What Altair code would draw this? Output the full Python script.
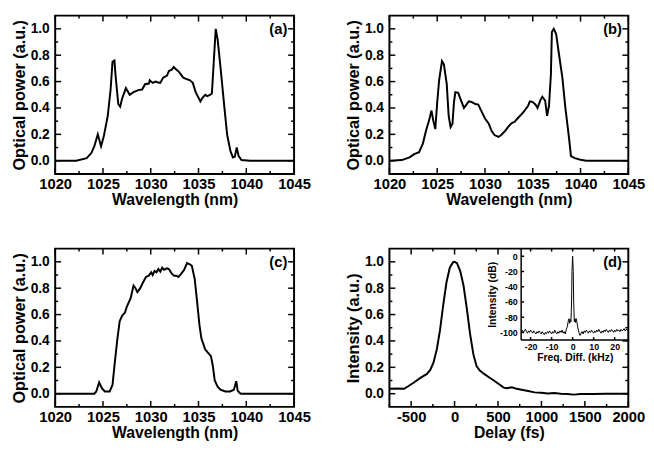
import altair as alt
import pandas as pd

# ---------------- data ----------------
a_wl = [1020, 1022.2, 1023.3, 1023.8, 1024.1, 1024.46, 1024.8, 1025.1, 1025.5, 1025.8, 1026.0, 1026.2, 1026.3, 1026.6,
        1026.8, 1027.0, 1027.4, 1027.8, 1028.2, 1028.7, 1029.1, 1029.4, 1029.8, 1029.9, 1030.2, 1030.5, 1030.7, 1031.0,
        1031.3, 1031.7, 1031.9, 1032.2, 1032.4, 1032.7, 1033.0, 1033.4, 1033.7, 1034.1, 1034.4, 1034.7, 1035.2, 1035.4,
        1035.7, 1035.9, 1036.2, 1036.4, 1036.6, 1036.8, 1037.0, 1037.3, 1037.7, 1038.0, 1038.35, 1038.6, 1038.8, 1039.0,
        1039.2, 1039.5, 1040.4, 1045]
a_pw = [0, 0, 0.02, 0.06, 0.11, 0.20, 0.11, 0.19, 0.34, 0.54, 0.75, 0.76, 0.66, 0.43, 0.41, 0.47, 0.55, 0.50, 0.52,
        0.535, 0.54, 0.58, 0.585, 0.61, 0.59, 0.60, 0.595, 0.59, 0.63, 0.645, 0.68, 0.69, 0.71, 0.69, 0.67, 0.63, 0.62,
        0.61, 0.59, 0.52, 0.45, 0.475, 0.50, 0.49, 0.50, 0.51, 0.755, 1.0, 0.92, 0.71, 0.41, 0.195, 0.07, 0.025, 0.03,
        0.10, 0.035, 0.005, 0, 0]

b_wl = [1020, 1021.3, 1022.1, 1022.6, 1023.1, 1023.5, 1023.8, 1024.2, 1024.4, 1024.6, 1024.8, 1025.0, 1025.2, 1025.5,
        1025.7, 1026.0, 1026.2, 1026.4, 1026.6, 1026.75, 1026.9, 1027.2, 1027.4, 1027.8, 1028.0, 1028.3, 1028.6, 1029.0,
        1029.3, 1029.7, 1030.0, 1030.4, 1030.7, 1031.0, 1031.4, 1031.7, 1032.1, 1032.4, 1032.8, 1033.1, 1033.4, 1033.8,
        1034.1, 1034.5, 1034.7, 1035.0, 1035.3, 1035.5, 1035.8, 1036.0, 1036.3, 1036.5, 1036.7, 1036.9, 1037.0, 1037.2,
        1037.45, 1037.7, 1038.1, 1038.4, 1038.8, 1039.0, 1039.4, 1040.0, 1040.6, 1045]
b_pw = [0, 0.005, 0.025, 0.05, 0.065, 0.13, 0.22, 0.32, 0.38, 0.30, 0.24, 0.44, 0.61, 0.755, 0.73, 0.58, 0.34, 0.255,
        0.28, 0.44, 0.52, 0.515, 0.475, 0.40, 0.42, 0.45, 0.445, 0.43, 0.425, 0.365, 0.32, 0.28, 0.225, 0.195, 0.18,
        0.195, 0.225, 0.255, 0.285, 0.295, 0.32, 0.35, 0.375, 0.415, 0.45, 0.445, 0.425, 0.40, 0.46, 0.485, 0.455, 0.34,
        0.415, 0.655, 0.975, 1.0, 0.96, 0.83, 0.63, 0.41, 0.17, 0.035, 0.02, 0.007, 0, 0]

c_wl = [1020, 1024.1, 1024.3, 1024.6, 1024.9, 1025.2, 1025.7, 1026.0, 1026.2, 1026.5, 1026.75, 1027.0, 1027.3, 1027.5,
        1027.9, 1028.2, 1028.4, 1028.6, 1028.9, 1029.2, 1029.5, 1029.8, 1030.05, 1030.2, 1030.4, 1030.6, 1030.8, 1031.0,
        1031.2, 1031.4, 1031.7, 1031.9, 1032.2, 1032.45, 1032.7, 1032.9, 1033.2, 1033.5, 1033.8, 1034.1, 1034.3, 1034.6,
        1034.85, 1035.1, 1035.3, 1035.7, 1036.0, 1036.3, 1036.5, 1036.7, 1037.0, 1037.3, 1037.8, 1038.3, 1038.7,
        1038.95, 1039.1, 1039.4, 1045]
c_pw = [0, 0, 0.017, 0.085, 0.04, 0.017, 0.017, 0.066, 0.21, 0.41, 0.55, 0.59, 0.615, 0.66, 0.725, 0.82, 0.80, 0.77,
        0.80, 0.845, 0.885, 0.895, 0.92, 0.90, 0.93, 0.92, 0.945, 0.925, 0.955, 0.94, 0.95, 0.945, 0.91, 0.895, 0.895,
        0.885, 0.91, 0.94, 0.99, 0.98, 0.97, 0.87, 0.70, 0.52, 0.42, 0.335, 0.31, 0.285, 0.21, 0.10, 0.054, 0.03, 0.017,
        0.017, 0.03, 0.095, 0.022, 0, 0]

d_fs = [-750, -656, -581, -525, -468, -393, -318, -280, -243, -205, -168, -130, -93, -55, -17, 0, 28, 65, 103, 140,
        178, 216, 253, 290, 340, 396, 452, 509, 565, 602, 659, 715, 772, 847, 922, 997, 1072, 1147, 1222, 1297, 1373,
        1448, 1598, 1748, 1898, 2000]
d_int = [0.037, 0.04, 0.037, 0.06, 0.085, 0.12, 0.15, 0.18, 0.235, 0.335, 0.48, 0.675, 0.845, 0.955, 0.997, 1.0, 0.99,
         0.93, 0.82, 0.65, 0.455, 0.30, 0.21, 0.175, 0.15, 0.125, 0.10, 0.073, 0.046, 0.041, 0.049, 0.037, 0.03, 0.02,
         0.01, 0.007, 0.002, 0.005, 0, -0.002, -0.007, -0.002, -0.002, 0, 0, 0]

ins_khz = [-24.5, -24, -23.5, -23, -22.5, -22, -21.5, -21, -20.5, -20, -19.5, -19, -18.5, -18, -17.5, -17, -16.5, -16,
           -15.5, -15, -14.5, -14, -13.5, -13, -12.5, -12, -11.5, -11, -10.5, -10, -9.5, -9, -8.5, -8, -7.5, -7, -6.5,
           -6, -5.5, -5, -4.5, -4, -3.5, -3, -2.5, -2, -1.7, -1.4, -1.1, -0.8, -0.5, -0.3, 0, 0.3, 0.5, 0.8, 1.1, 1.4,
           1.7, 2.0, 2.5, 3, 3.5, 4, 4.5, 5, 5.5, 6, 6.5, 7, 7.5, 8, 8.5, 9, 9.5, 10, 10.5, 11, 11.5, 12, 12.5, 13,
           13.5, 14, 14.5, 15, 15.5, 16, 16.5, 17, 17.5, 18, 18.5, 19, 19.5, 20, 20.5, 21, 21.5, 22, 22.5, 23, 23.5,
           24, 24.5, 25, 25.5, 26, 26.5]
ins_db = [-99, -97, -100, -98, -96, -99, -101, -98, -100, -97, -99, -101, -98, -100, -102, -99, -101, -98, -100, -102,
          -99, -101, -103, -100, -102, -99, -101, -98, -100, -102, -99, -101, -97, -100, -102, -99, -101, -98, -100,
          -97, -101, -99, -102, -96, -92, -84, -82, -88, -83, -86, -60, -20, 0, -20, -60, -86, -82, -87, -82, -86,
          -94, -100, -104, -101, -99, -102, -98, -100, -97, -99, -101, -98, -100, -97, -99, -101, -98, -100, -97, -99,
          -96, -99, -101, -98, -100, -97, -99, -96, -98, -100, -97, -99, -96, -98, -100, -97, -99, -96, -98, -97, -99,
          -96, -98, -97, -95, -98, -96, -97, -96]

wl_dom = [1020, 1045]
wl_major = [1020, 1025, 1030, 1035, 1040, 1045]
wl_minor = [1022.5, 1027.5, 1032.5, 1037.5, 1042.5]
pw_dom = [-0.1, 1.1]
pw_major = [0.0, 0.2, 0.4, 0.6, 0.8, 1.0]
pw_minor = [0.1, 0.3, 0.5, 0.7, 0.9]
fs_dom = [-750, 2000]
fs_major = [-500, 0, 500, 1000, 1500, 2000]
fs_minor = [-750, -250, 250, 750, 1250, 1750]
fs_major_top = [-500, 0, 500]
fs_minor_top = [-250, 250]
khz_dom = [-24.5, 26.5]
khz_major = [-20, -10, 0, 10, 20]
db_dom = [-110, 10]
db_major = [0, -20, -40, -60, -80, -100]

FONT = "Liberation Sans, Arial, sans-serif"
W, H = 243, 161
TW = 1.5          # tick stroke width
MAJ, MIN = 6, 3   # tick lengths
HYPHEN = "datum.value < 0 ? '-' + format(-datum.value, 'd') : format(datum.value, 'd')"


def scale(dom, rng=None):
    if rng is None:
        return alt.Scale(domain=dom, nice=False, zero=False)
    return alt.Scale(domain=dom, range=rng, nice=False, zero=False)


def xticks(vals, xdom, y0, y1, rng=None):
    return alt.Chart(pd.DataFrame({"v": vals})).mark_rule(color="black", strokeWidth=TW).encode(
        x=alt.X("v:Q", scale=scale(xdom, rng), axis=None), y=alt.value(y0), y2=alt.value(y1))


def yticks(vals, ydom, x0, x1, rng=None):
    return alt.Chart(pd.DataFrame({"v": vals})).mark_rule(color="black", strokeWidth=TW).encode(
        y=alt.Y("v:Q", scale=scale(ydom, rng), axis=None), x=alt.value(x0), x2=alt.value(x1))


def panel(df, xf, xdom, xmaj, xmin, xtitle, ytitle, lab, xmaj_top=None, xmin_top=None):
    if xmaj_top is None:
        xmaj_top = xmaj
    if xmin_top is None:
        xmin_top = xmin
    main = alt.Chart(df).mark_line(color="black", strokeWidth=2).encode(
        x=alt.X(f"{xf}:Q", scale=scale(xdom),
                axis=alt.Axis(orient="bottom", values=xmaj, title=xtitle, labelExpr=HYPHEN,
                              labelPadding=3, titlePadding=0)),
        y=alt.Y("y:Q", scale=scale(pw_dom),
                axis=alt.Axis(orient="left", values=pw_major, title=ytitle, format=".1f",
                              labelPadding=6, titlePadding=3)),
    )
    ticks = [
        xticks(xmaj, xdom, H, H - MAJ), xticks(xmin, xdom, H, H - MIN),
        xticks(xmaj_top, xdom, 0, MAJ), xticks(xmin_top, xdom, 0, MIN),
        yticks(pw_major, pw_dom, 0, MAJ), yticks(pw_minor, pw_dom, 0, MIN),
        yticks(pw_major, pw_dom, W, W - MAJ), yticks(pw_minor, pw_dom, W, W - MIN),
    ]
    txt = alt.Chart(pd.DataFrame({"t": [lab]})).mark_text(
        font=FONT, fontSize=15, fontWeight="bold", color="black", align="center", baseline="middle"
    ).encode(x=alt.value(227), y=alt.value(14), text="t:N")
    return alt.layer(main, *ticks, txt).resolve_axis(x="independent", y="independent")


df_a = pd.DataFrame({"wl": a_wl, "y": a_pw})
df_b = pd.DataFrame({"wl": b_wl, "y": b_pw})
df_c = pd.DataFrame({"wl": c_wl, "y": c_pw})
df_d = pd.DataFrame({"fs": d_fs, "y": d_int})
df_i = pd.DataFrame({"khz": ins_khz, "db": ins_db})
df_frame = pd.DataFrame({"x0": [khz_dom[0]], "x1": [khz_dom[1]], "y0": [db_dom[0]], "y1": [db_dom[1]]})

# inset geometry inside panel (d), in panel pixels
IXR = [134, W]
IYR = [93, 0]

inset_line = alt.Chart(df_i).mark_line(color="black", strokeWidth=1).encode(
    x=alt.X("khz:Q", scale=scale(khz_dom, IXR),
            axis=alt.Axis(orient="bottom", offset=IYR[0] - H, values=khz_major, labelExpr=HYPHEN,
                          labelFontSize=9, labelPadding=3, title="Freq. Diff. (kHz)",
                          titleFontSize=10.5, titlePadding=1)),
    y=alt.Y("db:Q", scale=scale(db_dom, IYR),
            axis=alt.Axis(orient="left", offset=-IXR[0], values=db_major, labelExpr=HYPHEN,
                          labelFontSize=9, labelPadding=4, title="Intensity (dB)",
                          titleFontSize=10.5, titlePadding=2)),
)
inset_bottom = alt.Chart(df_frame).mark_rule(color="black", strokeWidth=1.5).encode(
    x=alt.X("x0:Q", scale=scale(khz_dom, IXR), axis=None), x2="x1:Q",
    y=alt.Y("y0:Q", scale=scale(db_dom, IYR), axis=None))
inset_left = alt.Chart(df_frame).mark_rule(color="black", strokeWidth=1.5).encode(
    x=alt.X("x0:Q", scale=scale(khz_dom, IXR), axis=None),
    y=alt.Y("y0:Q", scale=scale(db_dom, IYR), axis=None), y2="y1:Q")
inset = alt.layer(
    inset_line, inset_bottom, inset_left,
    xticks(khz_major, khz_dom, IYR[0], IYR[0] - MIN, IXR),
    xticks(khz_major, khz_dom, 0, MIN, IXR),
    yticks(db_major, db_dom, IXR[0], IXR[0] + MIN, IYR),
).resolve_axis(x="independent", y="independent")

pa = panel(df_a, "wl", wl_dom, wl_major, wl_minor, "Wavelength (nm)", "Optical power (a.u.)", "(a)")
pb = panel(df_b, "wl", wl_dom, wl_major, wl_minor, "Wavelength (nm)", "Optical power (a.u.)", "(b)")
pc = panel(df_c, "wl", wl_dom, wl_major, wl_minor, "Wavelength (nm)", "Optical power (a.u.)", "(c)")
pdm = panel(df_d, "fs", fs_dom, fs_major, fs_minor, "Delay (fs)", "Intensity (a.u.)", "(d)",
            xmaj_top=fs_major_top, xmin_top=fs_minor_top)
pd_ = alt.layer(pdm, inset).resolve_scale(x="independent", y="independent")

pa = pa.properties(width=W, height=H)
pb = pb.properties(width=W, height=H)
pc = pc.properties(width=W, height=H)
pd_ = pd_.properties(width=W, height=H)

chart = alt.vconcat(
    alt.hconcat(pa, pb, spacing=33),
    alt.hconcat(pc, pd_, spacing=33),
    spacing=39,
).properties(
    padding={"left": 2, "top": 2, "right": 0, "bottom": 0}
).configure_view(
    stroke="black", strokeWidth=2
).configure_axis(
    labelFont=FONT, labelFontSize=14, labelFontWeight="bold", labelColor="black",
    titleFont=FONT, titleFontSize=16, titleFontWeight="bold", titleColor="black",
    ticks=False, domain=False, grid=False, labelFlush=False, labelOverlap=False, minExtent=0,
).configure_axisX(
    labelFontSize=15
).configure_axisY(
    titleFontSize=16.5
)

chart.save("out.html", embed_options={"renderer": "svg", "actions": False})
